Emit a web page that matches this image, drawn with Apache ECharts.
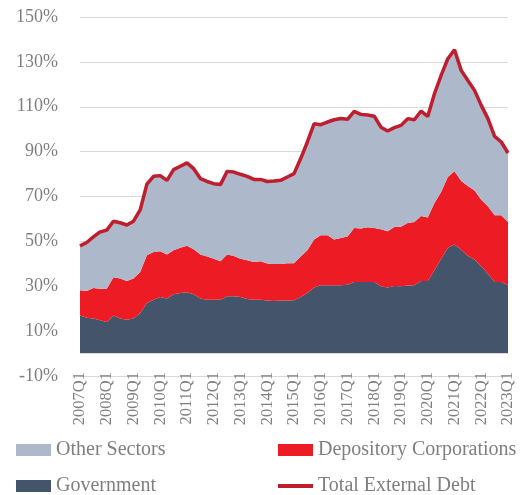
<!DOCTYPE html>
<html>
<head>
<meta charset="utf-8">
<script src="https://cdn.jsdelivr.net/npm/echarts@6/dist/echarts.min.js"></script>
<style>
  html, body { margin: 0; padding: 0; background: #fff; }
  #main { width: 527px; height: 495px; }
</style>
</head>
<body>
<div id="main"></div>
<script>
// quarters 2007Q1 .. 2023Q1
var years = ['2007', '2008', '2009', '2010', '2011', '2012', '2013', '2014', '2015',
  '2016', '2017', '2018', '2019', '2020', '2021', '2022', '2023'];
var quarterNames = ['Q1', 'Q2', 'Q3', 'Q4'];
var categories = [];
years.forEach(function (y) {
  quarterNames.forEach(function (q) {
    if (y === '2023' && q !== 'Q1') return;
    categories.push(y + q);
  });
});

// % of GDP
var government = [17, 16, 15.6, 14.8, 14.1, 17, 15.6, 15.1, 15.6, 18.1,
  22.5, 24, 25.2, 24.5, 26.4, 27, 27.3, 26.4, 24.5, 24,
  24, 24, 25.5, 25.5, 25.2, 24.3, 24, 24, 23.7, 23.4,
  23.7, 23.7, 23.8, 25.2, 27, 29.4, 30.4, 30.4, 30.4, 30.4,
  30.7, 31.9, 31.9, 31.9, 31.9, 30, 29.4, 30.1, 30, 30.3,
  30.4, 32.3, 32.3, 37.1, 42.3, 47.2, 48.6, 46.3, 43.5, 41.9,
  38.9, 35.6, 31.9, 31.9, 30.4];
var depository = [11.2, 11.9, 13.6, 14.1, 14.8, 17, 17.8, 17.2, 17.8, 18.3,
  21.3, 21.3, 20.4, 19.6, 19.6, 20.2, 20.7, 20.1, 19.6, 19.3,
  18.3, 17.1, 18.7, 18, 17.1, 17.3, 16.8, 17.1, 16.4, 16.5,
  16.2, 16.5, 16.4, 18.1, 19, 21.4, 22.3, 22.3, 20.4, 21.1,
  21.5, 24.1, 23.8, 24.4, 24.1, 25.4, 25.1, 26.3, 26.5, 27.9,
  28.2, 29, 28.3, 30, 29.7, 31.5, 32.6, 30.6, 31.2, 30.8,
  29.7, 30.1, 29.7, 29.7, 28.2];
var otherSectors = [19.8, 21.6, 22.8, 25.3, 26.1, 25, 24.9, 25, 25.6, 27.6,
  31.7, 33.7, 33.7, 33.1, 36, 36.3, 37, 35.9, 33.9, 33.4,
  33.4, 34.2, 37, 37.4, 37.6, 37.4, 36.8, 36.5, 36.6, 37,
  37.3, 38.5, 40, 43.6, 48.3, 51.6, 49.3, 50.5, 53.4, 53.3,
  52.2, 51.9, 50.9, 50, 49.8, 45.5, 44.7, 44.3, 45.2, 46.5,
  45.6, 46.8, 45.1, 48.7, 52, 52.7, 54.2, 49.3, 47, 44.6,
  42, 39, 35.2, 32.7, 30.8];
var totalDebt = [48, 49.5, 52, 54.2, 55, 59, 58.3, 57.3, 59, 64,
  75.5, 79, 79.3, 77.2, 82, 83.5, 85, 82.4, 78, 76.7,
  75.7, 75.3, 81.2, 80.9, 79.9, 79, 77.6, 77.6, 76.7, 76.9,
  77.2, 78.7, 80.2, 86.9, 94.3, 102.4, 102, 103.2, 104.2, 104.8,
  104.4, 107.9, 106.6, 106.3, 105.8, 100.9, 99.2, 100.7, 101.7, 104.7,
  104.2, 108.1, 105.7, 115.8, 124, 131.4, 135.4, 126.2, 121.7, 117.3,
  110.6, 104.7, 96.8, 94.3, 89.4];

var font = 'Liberation Serif';
var textGray = '#7f7f7f';
var gridGray = '#d9d9d9';

var myChart = echarts.init(document.getElementById('main'));

function areaSeries(name, data, color) {
  return {
    name: name,
    type: 'line',
    stack: 'debt',
    data: data,
    symbol: 'none',
    color: color,
    lineStyle: { width: 0 },
    areaStyle: { color: color, opacity: 1 },
    emphasis: { disabled: true }
  };
}

var govSeries = areaSeries('Government', government, '#44546a');
govSeries.markLine = {
  silent: true,
  symbol: 'none',
  label: { show: false },
  lineStyle: { color: gridGray, width: 1, type: 'solid' },
  data: [{ yAxis: 0 }]
};

var legendBase = {
  top: 440, orient: 'vertical', padding: 0, height: 60,
  itemWidth: 35, itemHeight: 12, itemGap: 16,
  textStyle: { fontFamily: font, fontSize: 20, color: textGray, lineHeight: 20 }
};

myChart.setOption({
  animation: false,
  textStyle: { fontFamily: font },
  grid: { left: 80, right: 19, top: 17, bottom: 119 },
  legend: [
    Object.assign({}, legendBase, {
      left: 16,
      data: [{ name: 'Other Sectors', icon: 'rect' }, { name: 'Government', icon: 'rect' }]
    }),
    Object.assign({}, legendBase, {
      left: 278,
      data: [
        { name: 'Depository Corporations', icon: 'rect' },
        { name: 'Total External Debt', icon: 'path://M0,0 L35,0 L35,4 L0,4 Z' }
      ]
    })
  ],
  xAxis: {
    type: 'category',
    data: categories,
    boundaryGap: false,
    axisLine: { onZero: false, lineStyle: { color: gridGray } },
    axisTick: { show: false },
    axisLabel: {
      interval: 3,
      rotate: 90,
      margin: -4,
      fontFamily: font,
      fontSize: 16.5,
      color: textGray
    }
  },
  yAxis: {
    type: 'value',
    min: -10,
    max: 150,
    interval: 20,
    axisLine: { show: false },
    axisTick: { show: false },
    splitLine: { lineStyle: { color: gridGray, width: 1 } },
    axisLabel: {
      formatter: '{value}%',
      margin: 22,
      fontFamily: font,
      fontSize: 18,
      color: textGray
    }
  },
  series: [
    govSeries,
    areaSeries('Depository Corporations', depository, '#ed1c24'),
    areaSeries('Other Sectors', otherSectors, '#adb9ca'),
    {
      name: 'Total External Debt',
      type: 'line',
      data: totalDebt,
      symbol: 'none',
      color: '#be1e2d',
      lineStyle: { color: '#be1e2d', width: 3.5 },
      z: 5,
      emphasis: { disabled: true }
    }
  ]
});
</script>
</body>
</html>
